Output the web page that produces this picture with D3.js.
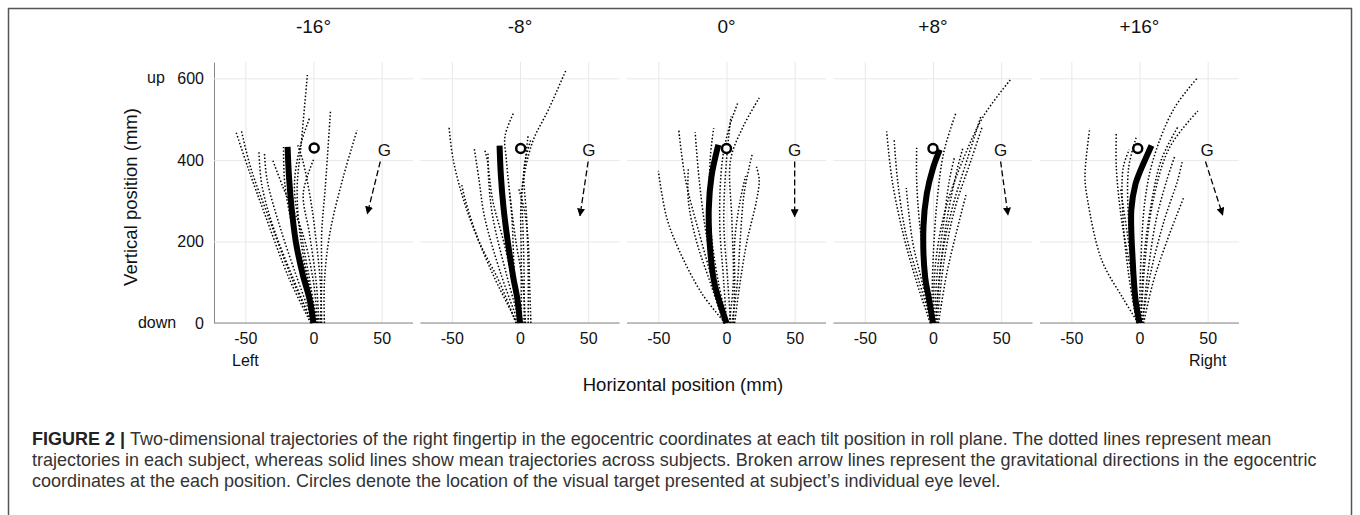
<!DOCTYPE html>
<html>
<head>
<meta charset="utf-8">
<script src="https://cdn.jsdelivr.net/npm/d3@7"></script>
<style>
  body { margin: 0; background: #fff; }
  text { font-family: "Liberation Sans", Arial, sans-serif; }
</style>
</head>
<body>
<svg id="canvas" width="1360" height="515"></svg>
<script>
// tilt conditions (one panel each)
const tilts = ["-16°", "-8°", "0°", "+8°", "+16°"];
const xTicks = [-50, 0, 50];
const yTicks = [0, 200, 400, 600];

// mean trajectory across subjects, [x mm, y mm]
const meanPaths = [
  [[0, 0], [-3, 60], [-8, 120], [-13, 200], [-16, 280], [-18, 360], [-19, 432]],
  [[0, 0], [-2, 60], [-5, 113], [-9, 200], [-12, 280], [-14, 360], [-15, 435]],
  [[0, 0], [-4, 40], [-9, 100], [-12, 180], [-13, 280], [-11, 360], [-6, 437]],
  [[0, 0], [-3, 60], [-5.8, 113], [-7, 236], [-4.5, 318], [0, 380], [5, 425]],
  [[0, 0], [-3, 60], [-5, 154], [-6, 277], [-3, 340], [0, 368], [8.8, 435]]
];

// mean trajectory of each subject
const subjectPaths = [
  [
    [[1, 0], [-4, 100], [-10, 220], [-12, 330], [-9, 440], [-4.5, 608]],
    [[2, 0], [-2, 90], [-8, 200], [-14, 330], [-10, 430], [-2.5, 506]],
    [[5, 0], [6, 100], [6, 220], [8.7, 335], [12.5, 522]],
    [[8, 0], [8, 100], [12, 220], [22, 360], [32, 473]],
    [[-2, 0], [-18, 110], [-35, 260], [-48, 380], [-57, 470]],
    [[-1, 0], [-16, 110], [-33, 260], [-46, 380], [-53, 473]],
    [[-1, 0], [-15, 110], [-30, 240], [-38, 340], [-40, 419]],
    [[0, 0], [-12, 110], [-25, 240], [-34, 350], [-36, 417]],
    [[3, 0], [-5, 120], [-15, 230], [-21, 340], [-22, 435]],
    [[4, 0], [2, 100], [-3, 220], [-7.5, 318], [0, 400]],
    [[6, 0], [5, 100], [2, 200], [-2, 300], [-8, 400], [-12, 440]],
    [[3, 0], [0, 100], [-8, 220], [-22, 330], [-30, 400]]
  ],
  [
    [[1, 0], [1, 150], [1.3, 318], [9, 442], [21, 524], [34, 622]],
    [[0, 0], [-4, 120], [-6, 260], [-10, 400], [-11, 458], [-4.3, 518]],
    [[-2, 0], [-19, 113], [-39, 277], [-49, 400], [-52, 479]],
    [[-1, 0], [-14, 120], [-26, 260], [-30, 350], [-33.6, 429]],
    [[0, 0], [-10, 120], [-20, 260], [-23, 350], [-23.5, 417]],
    [[3, 0], [3, 120], [2, 250], [1.3, 318], [4, 400], [6, 462]],
    [[4, 0], [2, 100], [-3, 200], [-7.6, 318]],
    [[6, 0], [6, 120], [5, 250], [3, 380], [8, 450]],
    [[-3, 0], [-15, 100], [-30, 200], [-40, 300], [-43, 343]],
    [[8, 0], [7, 100], [6, 200], [3, 280], [-1, 330]],
    [[2, 0], [-5, 100], [-12, 200], [-20, 300], [-24, 400], [-26, 425]]
  ],
  [
    [[2, 0], [5, 100], [4, 250], [3, 400], [12, 480], [24, 552]],
    [[0, 0], [-2, 100], [-5, 250], [-3, 400], [2, 480], [8.3, 540]],
    [[4, 0], [8, 100], [10, 200], [13, 320], [19, 416]],
    [[6, 0], [10, 100], [15, 200], [22, 300], [24, 351], [22, 383]],
    [[-2, 0], [-10, 100], [-20, 220], [-30, 350], [-35, 472]],
    [[-1, 0], [-8, 100], [-15, 220], [-20, 350], [-23, 468]],
    [[-1, 0], [-18, 72], [-35, 180], [-44, 260], [-50, 373]],
    [[1, 0], [-6, 100], [-12, 250], [-12, 400], [-9.4, 478]],
    [[3, 0], [1, 100], [-2, 250], [0, 400], [3.3, 507]],
    [[5, 0], [6, 100], [6, 200], [10, 300], [14, 360]],
    [[-2, 0], [-12, 100], [-22, 200], [-28, 300], [-28, 380]]
  ],
  [
    [[0, 0], [2, 150], [9, 277], [22, 400], [37, 507], [56.7, 596]],
    [[-1, 0], [0, 150], [3, 300], [8, 420], [16.9, 516]],
    [[2, 0], [6, 150], [14, 280], [25, 400], [35, 505]],
    [[3, 0], [8, 150], [16, 280], [28, 400], [36, 480]],
    [[1, 0], [3, 120], [8, 250], [12, 350], [15.6, 404]],
    [[4, 0], [10, 120], [17, 220], [24.4, 317]],
    [[-2, 0], [-12, 100], [-22, 220], [-30, 350], [-34, 470]],
    [[-1, 0], [-10, 100], [-20, 220], [-26, 350], [-28.5, 450]],
    [[0, 0], [-5, 120], [-10, 250], [-12, 350], [-12, 430]],
    [[-1, 0], [-8, 100], [-15, 200], [-19.6, 331]],
    [[2, 0], [5, 120], [10, 250], [18, 380], [22, 430]]
  ],
  [
    [[0, 0], [1, 150], [4, 300], [10, 400], [25, 524], [42.8, 602]],
    [[1, 0], [4, 150], [10, 300], [22, 430], [42.8, 520]],
    [[-1, 0], [-12, 60], [-27.7, 154], [-38, 300], [-40, 360], [-36.5, 477]],
    [[-1, 0], [-6, 120], [-13, 250], [-17, 380], [-17, 468]],
    [[2, 0], [8, 120], [18, 250], [28, 350], [31.5, 398]],
    [[3, 0], [10, 100], [20, 200], [32.7, 310]],
    [[0, 0], [-4, 120], [-8, 250], [-8, 380], [-2.5, 454]],
    [[-2, 0], [-8, 120], [-12, 250], [-12, 380], [-7.5, 425]],
    [[1, 0], [3, 150], [8, 280], [16, 400], [28, 480]],
    [[2, 0], [6, 120], [12, 250], [20, 350], [26, 410]],
    [[-1, 0], [-4, 100], [-9, 220], [-14, 330]]
  ]
];

// visual target (eye level)
const targets = [[0.5, 429], [0.5, 428], [0, 428], [0, 428], [-1.3, 428]];
// gravity arrows [x0, y0, x1, y1] and "G" label
const gravity = [
  [49, 396, 39.5, 268],
  [50, 396, 44, 263],
  [50, 396, 50, 261],
  [49.6, 396, 55, 265],
  [48.4, 396, 61, 265]
];
const gLabels = [[52, 425], [50.5, 425], [50, 425], [49.6, 425], [49.6, 425]];

const captionLines = [
  ["FIGURE 2 | ", "Two-dimensional trajectories of the right fingertip in the egocentric coordinates at each tilt position in roll plane. The dotted lines represent mean"],
  ["", "trajectories in each subject, whereas solid lines show mean trajectories across subjects. Broken arrow lines represent the gravitational directions in the egocentric"],
  ["", "coordinates at the each position. Circles denote the location of the visual target presented at subject\u2019s individual eye level."]
];

let svg = d3.select("#canvas");

// figure frame
svg.append("rect")
  .attr("x", 8.5).attr("y", 8.5)
  .attr("width", 1343).attr("height", 530)
  .attr("fill", "none").attr("stroke", "#555").attr("stroke-width", 1.5);

const panelW = 199, panelStep = 206.5, firstLeft = 214;
const plotTop = 62, plotBottom = 323;

const scalaY = d3.scaleLinear().domain([0, 640]).range([plotBottom, plotTop]);
const etichetta = d => String(d);  // plain hyphen minus, like the original

svg.append("defs").append("marker")
  .attr("id", "punta")
  .attr("viewBox", "0 0 10 10")
  .attr("refX", 9).attr("refY", 5)
  .attr("markerWidth", 8).attr("markerHeight", 8)
  .attr("markerUnits", "userSpaceOnUse")
  .attr("orient", "auto")
  .append("path")
  .attr("d", "M0,0 L10,5 L0,10 Z")
  .attr("fill", "#000");

tilts.forEach((titolo, i) => {
  const left = firstLeft + i * panelStep;
  const scalaX = d3.scaleLinear().domain([-73, 73]).range([left, left + panelW]);
  const g = svg.append("g");

  // vertical grid + x labels
  const assex = g.append("g")
    .attr("transform", `translate(0,${plotBottom})`)
    .call(d3.axisBottom(scalaX).tickValues(xTicks).tickFormat(etichetta)
      .tickSize(-(plotBottom - plotTop)).tickSizeOuter(0).tickPadding(10));
  assex.selectAll(".tick line").attr("stroke", "#e8e8e8");
  assex.selectAll(".tick text").attr("font-size", 16).attr("fill", "#111")
    .style("font-family", "'Liberation Sans', Arial, sans-serif");
  assex.select(".domain").remove();

  // horizontal grid
  const assey = g.append("g")
    .attr("transform", `translate(${left},0)`)
    .call(d3.axisLeft(scalaY).tickValues(yTicks).tickFormat(etichetta)
      .tickSize(-panelW).tickSizeOuter(0).tickPadding(10));
  assey.selectAll(".tick line").attr("stroke", "#e8e8e8");
  assey.selectAll(".tick text").attr("font-size", 16).attr("fill", "#111")
    .style("font-family", "'Liberation Sans', Arial, sans-serif");
  if (i === 0) {
    assey.select(".domain").attr("stroke", "#888");
  } else {
    assey.select(".domain").remove();
    assey.selectAll(".tick text").remove();
  }

  // x axis line
  g.append("line")
    .attr("x1", left).attr("x2", left + panelW)
    .attr("y1", plotBottom).attr("y2", plotBottom)
    .attr("stroke", "#888").attr("stroke-width", 1.2);

  // panel title
  g.append("text")
    .attr("x", scalaX(0)).attr("y", 33)
    .attr("text-anchor", "middle").attr("font-size", 19).attr("fill", "#111")
    .text(titolo);

  const linea = d3.line()
    .x(d => scalaX(d[0]))
    .y(d => scalaY(d[1]))
    .curve(d3.curveCatmullRom.alpha(0.5));

  g.selectAll("path.soggetto")
    .data(subjectPaths[i])
    .enter()
    .append("path")
    .attr("class", "soggetto")
    .attr("d", linea)
    .attr("fill", "none")
    .attr("stroke", "#000")
    .attr("stroke-width", 1.5)
    .attr("stroke-dasharray", "1.5 2");

  g.append("path")
    .datum(meanPaths[i])
    .attr("d", linea)
    .attr("fill", "none")
    .attr("stroke", "#000")
    .attr("stroke-width", 6);

  // target
  g.append("circle")
    .attr("cx", scalaX(targets[i][0])).attr("cy", scalaY(targets[i][1]))
    .attr("r", 4.5)
    .attr("fill", "#fff").attr("stroke", "#000").attr("stroke-width", 2.5);

  // gravity
  const gr = gravity[i];
  g.append("line")
    .attr("x1", scalaX(gr[0])).attr("y1", scalaY(gr[1]))
    .attr("x2", scalaX(gr[2])).attr("y2", scalaY(gr[3]))
    .attr("stroke", "#000").attr("stroke-width", 1.3)
    .attr("stroke-dasharray", "6 3")
    .attr("marker-end", "url(#punta)");

  g.append("text")
    .attr("x", scalaX(gLabels[i][0])).attr("y", scalaY(gLabels[i][1]))
    .attr("dy", "0.36em")
    .attr("text-anchor", "middle").attr("font-size", 17).attr("fill", "#111")
    .text("G");

  if (i === 0) {
    g.append("text").attr("x", 156).attr("y", scalaY(600)).attr("dy", "0.32em")
      .attr("text-anchor", "middle").attr("font-size", 16).attr("fill", "#111").text("up");
    g.append("text").attr("x", 157).attr("y", scalaY(0)).attr("dy", "0.32em")
      .attr("text-anchor", "middle").attr("font-size", 16).attr("fill", "#111").text("down");
    g.append("text").attr("x", scalaX(-50)).attr("y", 366)
      .attr("text-anchor", "middle").attr("font-size", 16).attr("fill", "#111").text("Left");
  }
  if (i === tilts.length - 1) {
    g.append("text").attr("x", scalaX(50)).attr("y", 366)
      .attr("text-anchor", "middle").attr("font-size", 16).attr("fill", "#111").text("Right");
  }
});

// axis titles
svg.append("text")
  .attr("transform", "translate(137,197) rotate(-90)")
  .attr("text-anchor", "middle").attr("font-size", 18.5).attr("fill", "#111")
  .text("Vertical position (mm)");

svg.append("text")
  .attr("x", 683).attr("y", 391)
  .attr("text-anchor", "middle").attr("font-size", 18.5).attr("fill", "#111")
  .text("Horizontal position (mm)");

// caption: size the font so that the first line spans the same width as the original
const righe = captionLines.map((riga, k) => {
  const t = svg.append("text")
    .attr("x", 32).attr("y", 445 + k * 21)
    .attr("font-size", 15).attr("fill", "#333");
  if (riga[0]) t.append("tspan").attr("font-weight", "bold").attr("fill", "#222").text(riga[0]);
  t.append("tspan").text(riga[1]);
  return t;
});
const larghezza1 = righe[0].node().getComputedTextLength();
const dimensione = 15 * 1240 / larghezza1;
righe.forEach(t => t.attr("font-size", dimensione));
</script>
</body>
</html>
